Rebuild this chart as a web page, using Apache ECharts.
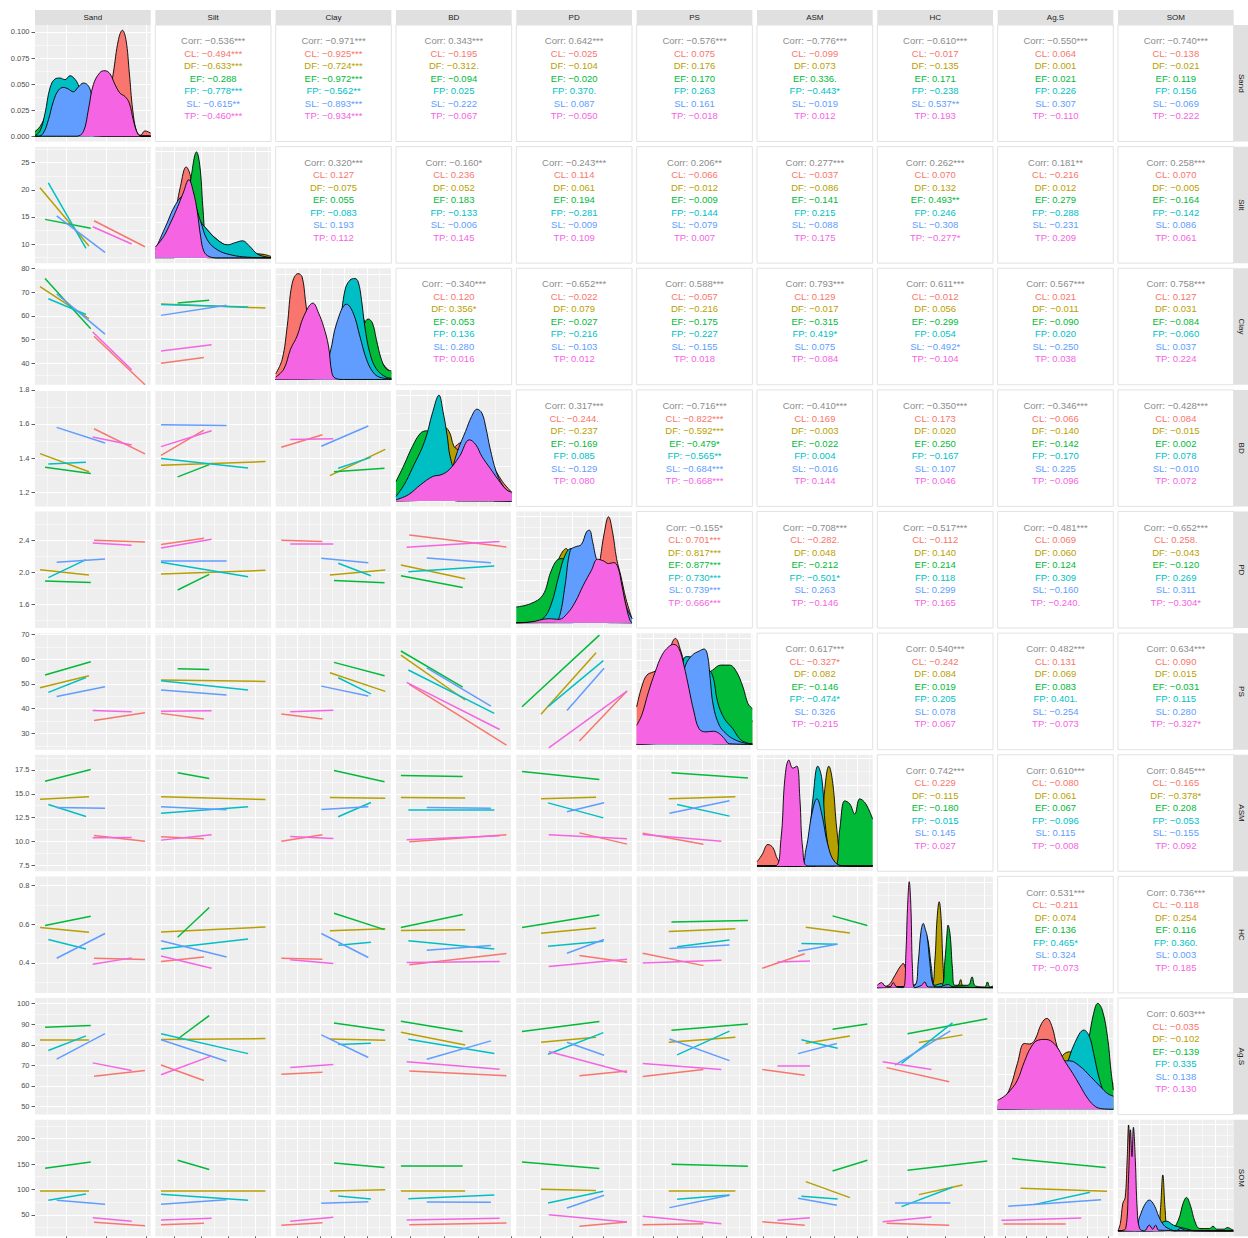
<!DOCTYPE html>
<html>
<head>
<meta charset="utf-8">
<title>Soil properties by land use</title>
<script src="https://cdn.jsdelivr.net/npm/echarts@6/dist/echarts.min.js"></script>
<style>
  html, body { margin: 0; padding: 0; background: #ffffff; }
  #chart { width: 1248px; height: 1238px; }
</style>
</head>
<body>
<div id="chart"></div>
<script>
// ---------------------------------------------------------------------------
// Variables, groups and axis scales
// ---------------------------------------------------------------------------
const variables = ['Sand', 'Silt', 'Clay', 'BD', 'PD', 'PS', 'ASM', 'HC', 'Ag.S', 'SOM'];
const groups = ['CL', 'DF', 'EF', 'FP', 'SL', 'TP'];
const groupColors = ['#F8766D', '#B79F00', '#00BA38', '#00BFC4', '#619CFF', '#F564E3'];

// panel scale limits of every variable
const axisLimits = [
  [4.03, 62.5], [6.48, 27.97], [30.9, 80.1], [1.116, 1.80], [1.30, 2.76],
  [23.45, 70.5], [6.89, 19.08], [0.245, 0.847], [46.1, 102.7], [8.4, 237]
];
// major breaks (tick labels) of every variable
const axisBreaks = [
  [20, 40, 60], [10, 15, 20, 25], [40, 50, 60, 70, 80], [1.2, 1.4, 1.6, 1.8], [1.6, 2.0, 2.4],
  [30, 40, 50, 60, 70], [7.5, 10, 12.5, 15, 17.5], [0.4, 0.6, 0.8], [50, 60, 70, 80, 90, 100], [50, 100, 150, 200]
];
const labelDigits = [0, 0, 0, 1, 1, 0, 1, 1, 0, 0];
// density breaks of the diagonal panels
const densityBreaks = [
  [0, 0.025, 0.05, 0.075, 0.1], [0, 0.1, 0.2, 0.3], [0, 0.02, 0.04, 0.06, 0.08], [0, 2, 4, 6],
  [0, 0.5, 1, 1.5, 2, 2.5], [0, 0.01, 0.02, 0.03, 0.04, 0.05], [0, 0.2, 0.4, 0.6, 0.8],
  [0, 5, 10, 15, 20], [0, 0.02, 0.04, 0.06], [0, 0.01, 0.02, 0.03, 0.04, 0.05]
];

// ---------------------------------------------------------------------------
// Per-group linear fits: x-extent of each group for each predictor ...
// order of groups: CL, DF, EF, FP, SL, TP
// ---------------------------------------------------------------------------
const groupExtents = [
  [[33.85, 59.6], [6.56, 31.3], [9.09, 32.2], [10.77, 29.8], [14.98, 39.4], [33.2, 52.9]],          // Sand
  [[7.54, 15.5], [7.54, 26.94], [10.63, 16.49], [7.54, 23.71], [7.54, 19.71], [7.54, 16.93]],       // Silt
  [[33.3, 50.8], [53.96, 77.5], [55.7, 77.2], [57.5, 71.4], [50.3, 70.3], [37.1, 55.4]],             // Clay
  [[1.195, 1.769], [1.145, 1.525], [1.145, 1.51], [1.189, 1.697], [1.298, 1.677], [1.179, 1.729]],  // BD
  [[2.096, 2.697], [1.611, 2.306], [1.372, 2.348], [1.70, 2.398], [1.939, 2.407], [1.709, 2.697]],  // PD
  [[25.9, 50.6], [36.5, 63.6], [37.6, 68.7], [39.9, 61.2], [36.8, 61.2], [25.9, 57.9]],             // PS
  [[7.45, 11.92], [12.03, 16.68], [14.85, 18.52], [11.57, 15.39], [11.22, 15.3], [9.04, 12.48]],    // ASM
  [[0.293, 0.619], [0.461, 0.688], [0.402, 0.817], [0.371, 0.636], [0.337, 0.625], [0.273, 0.527]], // HC
  [[48.9, 79.4], [57.3, 99.6], [53.2, 98.9], [63.9, 91.3], [51.3, 96.7], [48.0, 87.0]]              // Ag.S
];

// ... and the fitted response at both ends of that extent (one entry per predictor column)
const siltFits = [
  [[14.3, 9.5], [20.4, 9.63], [14.55, 12.9], [21.3, 9.2], [15.2, 8.47], [13.2, 10.0]]
];
const clayFits = [
  [[51.4, 30.9], [72.3, 58.8], [75.8, 54.6], [67.2, 60.6], [69.3, 52.3], [53.2, 37.2]],
  [[40.0, 42.4], [65.0, 63.3], [65.4, 66.6], [64.8, 63.7], [60.2, 64.5], [45.2, 47.8]]
];
const bdFits = [
  [[1.572, 1.424], [1.426, 1.319], [1.346, 1.309], [1.365, 1.375], [1.580, 1.488], [1.523, 1.476]],
  [[1.416, 1.564], [1.358, 1.379], [1.289, 1.361], [1.397, 1.342], [1.595, 1.591], [1.467, 1.560]],
  [[1.463, 1.537], [1.297, 1.451], [1.319, 1.340], [1.340, 1.404], [1.469, 1.588], [1.508, 1.513]]
];
const pdFits = [
  [[2.40, 2.379], [2.031, 1.964], [1.889, 1.872], [1.931, 2.157], [2.124, 2.165], [2.366, 2.337]],
  [[2.346, 2.425], [1.977, 2.023], [1.776, 1.973], [2.124, 1.943], [2.145, 2.145], [2.304, 2.413]],
  [[2.40, 2.383], [1.964, 2.027], [1.897, 1.868], [2.111, 1.956], [2.174, 2.119], [2.354, 2.354]],
  [[2.467, 2.316], [2.090, 1.918], [1.956, 1.809], [2.006, 2.078], [2.178, 2.119], [2.312, 2.383]]
];
const psFits = [
  [[35.25, 38.35], [48.45, 53.3], [53.6, 58.96], [46.6, 52.6], [44.95, 48.85], [39.3, 38.75]],
  [[38.1, 35.8], [51.55, 51.0], [56.1, 55.85], [51.3, 47.5], [47.5, 45.5], [39.0, 39.2]],
  [[37.8, 35.8], [54.5, 47.0], [58.7, 53.3], [52.5, 46.0], [49.1, 45.1], [38.75, 39.4]],
  [[49.8, 25.3], [61.65, 43.5], [63.3, 48.7], [55.6, 38.1], [56.5, 41.0], [50.6, 31.6]],
  [[26.9, 47.1], [37.7, 62.6], [40.8, 69.7], [40.8, 59.4], [39.3, 56.3], [24.2, 47.1]]
];
const asmFits = [
  [[10.64, 10.04], [14.43, 14.68], [16.32, 17.53], [13.88, 12.62], [13.56, 13.49], [10.39, 10.43]],
  [[10.5, 10.29], [14.68, 14.4], [17.19, 16.59], [12.97, 13.63], [13.63, 13.32], [10.15, 10.71]],
  [[10.04, 10.71], [14.61, 14.54], [17.43, 16.26], [12.59, 14.09], [13.35, 13.63], [10.53, 10.32]],
  [[9.97, 10.71], [14.61, 14.57], [16.91, 16.8], [13.32, 13.32], [13.56, 13.49], [10.18, 10.6]],
  [[10.91, 9.73], [14.47, 14.64], [17.33, 16.49], [14.05, 12.48], [13.11, 14.05], [10.71, 10.29]],
  [[10.88, 9.73], [14.47, 14.68], [17.19, 16.66], [13.88, 12.66], [12.97, 14.26], [10.74, 10.04]]
];
const hcFits = [
  [[0.424, 0.417], [0.583, 0.559], [0.593, 0.641], [0.521, 0.472], [0.424, 0.552], [0.393, 0.426]],
  [[0.407, 0.431], [0.560, 0.586], [0.533, 0.686], [0.472, 0.524], [0.514, 0.431], [0.436, 0.372]],
  [[0.424, 0.419], [0.566, 0.576], [0.657, 0.572], [0.491, 0.507], [0.552, 0.428], [0.416, 0.397]],
  [[0.391, 0.449], [0.567, 0.571], [0.583, 0.65], [0.514, 0.472], [0.466, 0.490], [0.402, 0.407]],
  [[0.438, 0.403], [0.553, 0.581], [0.583, 0.647], [0.486, 0.512], [0.450, 0.521], [0.381, 0.419]],
  [[0.45, 0.386], [0.562, 0.576], [0.612, 0.619], [0.483, 0.519], [0.474, 0.493], [0.40, 0.414]],
  [[0.372, 0.447], [0.584, 0.555], [0.643, 0.593], [0.50, 0.497], [0.46, 0.497], [0.405, 0.41]]
];
const agsFits = [
  [[64.7, 67.5], [82.5, 82.5], [88.5, 89.3], [77.2, 84.3], [73.0, 85.4], [71.2, 67.5]],
  [[70.2, 62.6], [82.5, 83.0], [82.8, 94.2], [85.3, 75.7], [82.4, 72.0], [65.4, 74.6]],
  [[65.7, 66.7], [82.8, 82.2], [90.6, 87.1], [80.1, 80.7], [84.8, 73.8], [68.9, 70.4]],
  [[67.2, 65.0], [86.1, 79.9], [91.4, 86.4], [82.7, 75.7], [73.0, 81.9], [71.8, 68.1]],
  [[65.0, 67.3], [81.2, 83.7], [86.4, 91.3], [75.4, 85.9], [81.2, 74.9], [76.7, 66.5]],
  [[64.6, 68.0], [81.2, 83.7], [87.1, 90.1], [75.1, 86.6], [82.8, 72.3], [70.9, 68.0]],
  [[68.0, 65.2], [80.7, 84.3], [87.5, 90.1], [82.4, 78.3], [75.7, 80.6], [69.6, 69.6]],
  [[68.9, 62.0], [81.1, 84.8], [85.3, 92.6], [71.0, 90.6], [70.1, 86.7], [71.7, 68.0]]
];
const somFits = [
  [[35.5, 29.0], [98.4, 98.4], [141.7, 154.1], [78.8, 91.2], [78.8, 70.9], [44.7, 37.5]],
  [[30.9, 33.6], [98.4, 98.4], [157.4, 139.1], [90.6, 78.8], [70.9, 80.1], [40.1, 43.4]],
  [[29.6, 34.9], [97.1, 99.7], [152.2, 143.0], [87.3, 81.4], [72.9, 76.1], [37.5, 45.3]],
  [[30.9, 34.2], [98.4, 97.8], [146.9, 146.9], [82.0, 89.3], [75.5, 74.8], [40.1, 43.4]],
  [[27.7, 36.2], [100.4, 97.8], [154.1, 141.0], [73.5, 96.5], [63.7, 88.6], [50.6, 36.2]],
  [[30.9, 32.9], [98.4, 98.4], [149.5, 145.6], [80.7, 89.3], [64.4, 88.6], [47.3, 32.9]],
  [[36.8, 29.6], [115.5, 84.0], [136.4, 157.4], [86.6, 81.4], [82.7, 68.9], [39.4, 44.7]],
  [[33.6, 29.6], [89.9, 108.9], [137.7, 156.1], [66.3, 104.3], [74.8, 74.8], [36.8, 46.0]],
  [[32.2, 32.2], [102.4, 96.5], [160.7, 143.0], [70.3, 94.5], [67.0, 80.1], [39.4, 44.0]]
];

// ---------------------------------------------------------------------------
// Correlations: [overall, CL, DF, EF, FP, SL, TP] for each pair above the diagonal
// ---------------------------------------------------------------------------
const sandCorr = [
  ['-0.536***', '-0.494***', '-0.633***', '-0.288', '-0.778***', '-0.615**', '-0.460***'],
  ['-0.971***', '-0.925***', '-0.724***', '-0.972***', '-0.562**', '-0.893***', '-0.934***'],
  ['0.343***', '-0.195', '-0.312.', '-0.094', '0.025', '-0.222', '-0.067'],
  ['0.642***', '-0.025', '-0.104', '-0.020', '0.370.', '0.087', '-0.050'],
  ['-0.576***', '0.075', '0.176', '0.170', '0.263', '0.161', '-0.018'],
  ['-0.776***', '-0.099', '0.073', '0.336.', '-0.443*', '-0.019', '0.012'],
  ['-0.610***', '-0.017', '-0.135', '0.171', '-0.238', '0.537**', '0.193'],
  ['-0.550***', '0.064', '0.001', '0.021', '0.226', '0.307', '-0.110'],
  ['-0.740***', '-0.138', '-0.021', '0.119', '0.156', '-0.069', '-0.222']
];
const siltCorr = [
  ['0.320***', '0.127', '-0.075', '0.055', '-0.083', '0.193', '0.112'],
  ['-0.160*', '0.236', '0.052', '0.183', '-0.133', '-0.006', '0.145'],
  ['-0.243***', '0.114', '0.061', '0.194', '-0.281', '-0.009', '0.109'],
  ['0.206**', '-0.066', '-0.012', '-0.009', '-0.144', '-0.079', '0.007'],
  ['0.277***', '-0.037', '-0.086', '-0.141', '0.215', '-0.088', '0.175'],
  ['0.262***', '0.070', '0.132', '0.493**', '0.246', '-0.308', '-0.277*'],
  ['0.181**', '-0.216', '0.012', '0.279', '-0.288', '-0.231', '0.209'],
  ['0.258***', '0.070', '-0.005', '-0.164', '-0.142', '0.086', '0.061']
];
const clayCorr = [
  ['-0.340***', '0.120', '0.356*', '0.053', '0.136', '0.280', '0.016'],
  ['-0.652***', '-0.022', '0.079', '-0.027', '-0.216', '-0.103', '0.012'],
  ['0.588***', '-0.057', '-0.216', '-0.175', '-0.227', '-0.155', '0.018'],
  ['0.793***', '0.129', '-0.017', '-0.315', '0.419*', '0.075', '-0.084'],
  ['0.611***', '-0.012', '0.056', '-0.299', '0.054', '-0.492*', '-0.104'],
  ['0.567***', '0.021', '-0.011', '-0.090', '0.020', '-0.250', '0.038'],
  ['0.758***', '0.127', '0.031', '-0.084', '-0.060', '0.037', '0.224']
];
const bdCorr = [
  ['0.317***', '-0.244.', '-0.237', '-0.169', '0.085', '-0.129', '0.080'],
  ['-0.716***', '-0.822***', '-0.592***', '-0.479*', '-0.565**', '-0.684***', '-0.668***'],
  ['-0.410***', '0.169', '-0.003', '-0.022', '0.004', '-0.016', '0.144'],
  ['-0.350***', '0.173', '0.020', '0.250', '-0.167', '0.107', '0.046'],
  ['-0.346***', '-0.066', '-0.140', '-0.142', '-0.170', '0.225', '-0.096'],
  ['-0.428***', '0.084', '-0.015', '0.002', '0.078', '-0.010', '0.072']
];
const pdCorr = [
  ['-0.155*', '0.701***', '0.817***', '0.877***', '0.730***', '0.739***', '0.666***'],
  ['-0.708***', '-0.282.', '0.048', '-0.212', '-0.501*', '0.263', '-0.146'],
  ['-0.517***', '-0.112', '0.140', '0.214', '0.118', '0.299', '0.165'],
  ['-0.481***', '0.069', '0.060', '0.124', '0.309', '-0.160', '-0.240.'],
  ['-0.652***', '0.258.', '-0.043', '-0.120', '0.269', '0.311', '-0.304*']
];
const psCorr = [
  ['0.617***', '-0.327*', '0.082', '-0.146', '-0.474*', '0.326', '-0.215'],
  ['0.540***', '-0.242', '0.084', '0.019', '0.205', '0.078', '0.067'],
  ['0.482***', '0.131', '0.069', '0.083', '0.401.', '-0.254', '-0.073'],
  ['0.634***', '0.090', '0.015', '-0.031', '0.115', '0.280', '-0.327*']
];
const asmCorr = [
  ['0.742***', '0.229', '-0.115', '-0.180', '-0.015', '0.145', '0.027'],
  ['0.610***', '-0.080', '0.061', '0.067', '-0.096', '0.115', '-0.008'],
  ['0.845***', '-0.165', '-0.378*', '0.208', '-0.053', '-0.155', '0.092']
];
const hcCorr = [
  ['0.531***', '-0.211', '0.074', '0.136', '0.465*', '0.324', '-0.073'],
  ['0.736***', '-0.118', '0.254', '0.116', '0.360.', '0.003', '0.185']
];
const agsCorr = [
  ['0.603***', '-0.035', '-0.102', '-0.139', '0.335', '0.138', '0.130']
];

// ---------------------------------------------------------------------------
// Kernel density curves on the diagonal: [value, density] for CL, DF, EF, FP, SL, TP
// ---------------------------------------------------------------------------
const sandDensity = [
  [[4.03, 0], [28.5, 0], [35.2, 0.0029], [40.3, 0.0253], [43.6, 0.0606], [46.2, 0.0926], [48.2, 0.1016], [50.0, 0.0926], [51.7, 0.0606], [53.4, 0.0253], [55.4, 0.0045], [57.4, 0.001], [59.6, 0.0051], [62.5, 0.0029]],
  [[4.03, 0.0013], [7.4, 0.0093], [10.8, 0.0285], [14.1, 0.0446], [17.5, 0.051], [20.9, 0.0516], [24.2, 0.0494], [27.6, 0.0349], [30.5, 0.0125], [33.5, 0.0003], [36, 0], [62.5, 0]],
  [[4.03, 0.0045], [6.6, 0.0093], [9.9, 0.0221], [13.3, 0.0381], [16.7, 0.0462], [20.0, 0.0471], [23.4, 0.0446], [26.8, 0.0349], [30.2, 0.0125], [33.2, 0.0003], [36, 0], [62.5, 0]],
  [[4.03, 0.0005], [6.6, 0.005], [9.1, 0.022], [11.6, 0.0462], [14.1, 0.0548], [16.7, 0.0558], [19.2, 0.0542], [21.7, 0.058], [23.7, 0.0558], [25.9, 0.0494], [28.5, 0.0349], [31.0, 0.0125], [33.5, 0.0013], [36, 0], [62.5, 0]],
  [[4.03, 0], [5.7, 0], [8.2, 0.0029], [10.8, 0.0157], [13.3, 0.0333], [15.8, 0.0439], [18.4, 0.0468], [20.9, 0.0452], [23.4, 0.0426], [25.9, 0.0471], [28.5, 0.051], [30.5, 0.0494], [32.2, 0.0429], [33.9, 0.0253], [35.5, 0.0045], [37.7, 0], [62.5, 0]],
  [[4.03, 0], [25.1, 0], [28.5, 0.0045], [31.0, 0.0253], [33.5, 0.0494], [36.9, 0.0612], [39.4, 0.0628], [41.9, 0.0599], [44.5, 0.0494], [47.0, 0.0413], [49.5, 0.0381], [51.7, 0.0317], [53.7, 0.0157], [55.8, 0.0029], [57.9, 0], [62.5, 0]]
];
const siltDensity = [
  [[6.48, 0], [7.41, 0.0132], [8.66, 0.0509], [9.9, 0.1075], [11.15, 0.2018], [12.21, 0.2565], [13.02, 0.2301], [13.77, 0.1452], [14.58, 0.0509], [15.51, 0.0038], [16.76, 0], [27.97, 0]],
  [[6.48, 0.0085], [8.66, 0.0509], [11.15, 0.0981], [13.02, 0.1216], [14.89, 0.0981], [18.0, 0.0509], [21.12, 0.0226], [24.23, 0.0132], [26.72, 0.0094], [27.97, 0.0038]],
  [[6.48, 0], [9.9, 0], [11.46, 0.0509], [12.4, 0.1452], [13.15, 0.2301], [14.14, 0.2989], [14.76, 0.2584], [15.3, 0.1452], [15.8, 0.0509], [16.45, 0.0085], [18.0, 0], [27.97, 0]],
  [[6.48, 0.0132], [8.66, 0.0604], [10.53, 0.1169], [12.4, 0.1452], [14.27, 0.1122], [16.13, 0.0792], [18.0, 0.0509], [19.87, 0.0368], [21.43, 0.0434], [22.68, 0.0481], [23.92, 0.0339], [25.48, 0.0104], [27.35, 0.0019], [27.97, 0.0009]],
  [[6.48, 0.0226], [8.66, 0.0981], [10.22, 0.1499], [11.77, 0.1735], [13.33, 0.1641], [14.89, 0.1028], [16.13, 0.0509], [18.0, 0.0226], [20.5, 0.0085], [23.61, 0.0019], [27.97, 0]],
  [[6.48, 0.0302], [8.04, 0.0604], [9.28, 0.0981], [10.53, 0.1405], [11.65, 0.1829], [12.71, 0.2207], [13.52, 0.1877], [14.27, 0.1311], [14.89, 0.0604], [15.51, 0.0179], [16.45, 0.0038], [18.0, 0], [27.97, 0]]
];
const clayDensity = [
  [[30.9, 0.0042], [33.71, 0.0154], [35.81, 0.0403], [37.92, 0.0727], [40.45, 0.0802], [42.13, 0.0777], [43.53, 0.0603], [44.94, 0.0403], [47.04, 0.0204], [49.85, 0.0055], [54.06, 0.0005], [60, 0], [80.1, 0]],
  [[30.9, 0], [50, 0.001], [55.46, 0.0055], [61.08, 0.0403], [65.29, 0.0553], [69.5, 0.0403], [75.12, 0.0154], [80.1, 0.005]],
  [[30.9, 0], [55.46, 0.0005], [62.48, 0.008], [66.69, 0.0304], [68.8, 0.0428], [70.2, 0.0458], [72.03, 0.0428], [73.71, 0.0304], [75.82, 0.0154], [77.92, 0.008], [80.1, 0.0065]],
  [[30.9, 0], [49.85, 0.0005], [55.46, 0.0105], [58.27, 0.0403], [60.38, 0.0677], [62.48, 0.0752], [64.59, 0.0764], [65.99, 0.074], [67.4, 0.0603], [68.8, 0.0403], [70.91, 0.0204], [73.71, 0.008], [77.92, 0.0017], [80.1, 0.001]],
  [[30.9, 0], [47.04, 0.0005], [51.25, 0.0055], [54.06, 0.0204], [56.87, 0.0428], [61.08, 0.057], [63.89, 0.0503], [66.69, 0.0329], [69.5, 0.0154], [72.31, 0.0055], [75.12, 0.0017], [80.1, 0.0005]],
  [[30.9, 0.0017], [34.41, 0.008], [37.22, 0.0229], [40.02, 0.0329], [42.83, 0.0478], [46.76, 0.0578], [49.15, 0.0503], [51.25, 0.0403], [53.36, 0.0254], [54.76, 0.0055], [56.17, 0.001], [59.68, 0], [80.1, 0]]
];
const bdDensity = [
  [[1.116, 0.075], [1.237, 0.547], [1.334, 1.302], [1.406, 2.246], [1.467, 3.095], [1.527, 3.378], [1.6, 3.189], [1.672, 2.246], [1.745, 1.113], [1.80, 0.5]],
  [[1.116, 0.359], [1.189, 1.302], [1.261, 2.812], [1.334, 3.755], [1.394, 4.227], [1.43, 3.944], [1.459, 3.095], [1.491, 2.812], [1.527, 1.868], [1.575, 0.736], [1.648, 0.17], [1.721, 0], [1.80, 0]],
  [[1.116, 1.113], [1.164, 2.057], [1.213, 3.095], [1.261, 3.849], [1.297, 3.982], [1.329, 3.566], [1.358, 2.057], [1.394, 0.925], [1.43, 0.264], [1.479, 0], [1.80, 0]],
  [[1.116, 0.264], [1.164, 0.925], [1.213, 1.868], [1.285, 3.378], [1.334, 5.076], [1.37, 6.0], [1.394, 5.076], [1.418, 3.755], [1.438, 2.434], [1.479, 1.396], [1.551, 0.736], [1.624, 0.264], [1.696, 0.075], [1.80, 0]],
  [[1.116, 0], [1.31, 0.075], [1.382, 0.547], [1.43, 1.302], [1.479, 2.812], [1.527, 3.944], [1.563, 4.793], [1.595, 5.208], [1.624, 4.982], [1.648, 4.133], [1.672, 3.0], [1.708, 1.679], [1.745, 0.925], [1.781, 0.547], [1.80, 0.45]],
  [[1.116, 0.075], [1.189, 0.359], [1.261, 0.925], [1.334, 1.396], [1.382, 1.491], [1.43, 1.774], [1.491, 2.529], [1.551, 3.472], [1.588, 3.189], [1.624, 2.529], [1.672, 1.868], [1.721, 1.208], [1.769, 0.642], [1.80, 0.5]]
];
const pdDensity = [
  [[1.30, 0], [1.992, 0], [2.197, 0.173], [2.299, 0.723], [2.36, 1.509], [2.412, 2.138], [2.463, 2.492], [2.514, 2.138], [2.565, 1.509], [2.617, 1.116], [2.683, 0.566], [2.76, 0.094]],
  [[1.30, 0], [1.428, 0.055], [1.582, 0.252], [1.735, 0.881], [1.838, 1.509], [1.93, 1.745], [1.981, 1.509], [2.043, 0.881], [2.145, 0.409], [2.299, 0.094], [2.504, 0], [2.76, 0]],
  [[1.30, 0.37], [1.479, 0.448], [1.633, 0.645], [1.735, 1.195], [1.812, 1.47], [1.879, 1.509], [1.94, 1.195], [1.992, 0.723], [2.094, 0.33], [2.248, 0.094], [2.401, 0.016], [2.76, 0]],
  [[1.30, 0], [1.479, 0.016], [1.633, 0.094], [1.735, 0.409], [1.838, 1.116], [1.915, 1.588], [1.992, 1.745], [2.094, 1.667], [2.197, 1.195], [2.299, 0.723], [2.401, 0.33], [2.504, 0.094], [2.76, 0]],
  [[1.30, 0], [1.787, 0.016], [1.848, 0.173], [1.915, 0.881], [1.981, 1.706], [2.043, 1.785], [2.12, 1.84], [2.186, 2.138], [2.222, 2.178], [2.263, 1.903], [2.309, 1.509], [2.376, 1.195], [2.453, 1.195], [2.53, 1.313], [2.606, 1.038], [2.683, 0.409], [2.76, 0.094]],
  [[1.30, 0], [1.479, 0.016], [1.71, 0.094], [1.838, 0.079], [1.94, 0.212], [2.043, 0.487], [2.145, 0.881], [2.248, 1.234], [2.325, 1.494], [2.401, 1.454], [2.463, 1.392], [2.53, 1.415], [2.581, 1.313], [2.632, 0.881], [2.683, 0.409], [2.734, 0.055], [2.76, 0]]
];
const psDensity = [
  [[23.45, 0.0177], [25.51, 0.0272], [27.57, 0.0327], [30.31, 0.0343], [33.74, 0.0362], [36.48, 0.0438], [39.22, 0.0501], [41.28, 0.0446], [44.03, 0.0327], [46.77, 0.0153], [49.51, 0.0043], [52.94, 0.0008], [57.06, 0], [70.5, 0]],
  [[23.45, 0], [39.22, 0.0027], [46.08, 0.0169], [52.94, 0.0296], [59.8, 0.0312], [65.29, 0.0248], [70.5, 0.0106]],
  [[23.45, 0], [36.48, 0.0011], [41.97, 0.0122], [47.45, 0.0248], [51.57, 0.0327], [54.31, 0.0351], [57.74, 0.0375], [61.17, 0.0375], [63.91, 0.0346], [66.66, 0.0272], [68.72, 0.0193], [70.5, 0.0169]],
  [[23.45, 0], [33.74, 0.0011], [37.85, 0.0122], [41.28, 0.0312], [43.61, 0.0415], [47.45, 0.0407], [51.57, 0.0367], [54.31, 0.0327], [56.37, 0.0201], [59.12, 0.0122], [62.54, 0.0074], [65.29, 0.0027], [68.03, 0.0008], [70.5, 0.0002]],
  [[23.45, 0], [32.37, 0.0011], [36.48, 0.009], [40.6, 0.0248], [43.34, 0.0375], [46.08, 0.0422], [48.83, 0.0441], [50.88, 0.0451], [52.26, 0.0422], [53.35, 0.0312], [54.59, 0.0185], [57.06, 0.009], [59.8, 0.0051], [62.54, 0.0027], [66.66, 0.0008], [70.5, 0.0002]],
  [[23.45, 0.009], [25.51, 0.0138], [28.25, 0.0248], [30.99, 0.0343], [33.74, 0.0422], [36.48, 0.0462], [38.54, 0.0473], [40.6, 0.0454], [42.65, 0.0375], [44.71, 0.0264], [46.77, 0.0153], [48.83, 0.0074], [51.57, 0.0059], [54.59, 0.0062], [57.06, 0.0051], [59.12, 0.0027], [61.17, 0.0003], [70.5, 0]]
];
const asmDensity = [
  [[6.89, 0.03], [7.42, 0.083], [8.05, 0.159], [8.57, 0.136], [9.1, 0.045], [9.83, 0], [19.08, 0]],
  [[6.89, 0], [12.99, 0], [13.62, 0.196], [14.04, 0.574], [14.46, 0.74], [14.88, 0.612], [15.3, 0.272], [15.82, 0.03], [16.45, 0], [19.08, 0]],
  [[6.89, 0], [15.09, 0], [15.61, 0.272], [16.14, 0.483], [16.66, 0.461], [17.19, 0.385], [17.72, 0.498], [18.35, 0.461], [19.08, 0.347]],
  [[6.89, 0], [11.41, 0], [12.25, 0.159], [12.78, 0.498], [13.3, 0.74], [13.72, 0.649], [14.14, 0.272], [14.77, 0.045], [15.61, 0], [19.08, 0]],
  [[6.89, 0], [11.41, 0], [12.04, 0.121], [12.67, 0.385], [13.2, 0.498], [13.72, 0.385], [14.35, 0.159], [15.09, 0.03], [16.14, 0], [19.08, 0]],
  [[6.89, 0], [8.78, 0], [9.41, 0.196], [9.83, 0.649], [10.25, 0.785], [10.67, 0.725], [11.09, 0.74], [11.41, 0.498], [11.72, 0.121], [12.25, 0], [19.08, 0]]
];
const hcDensity = [
  [[0.245, 0], [0.302, 0.443], [0.337, 2.342], [0.363, 3.925], [0.38, 4.558], [0.392, 3.608], [0.406, 1.076], [0.432, 0], [0.847, 0]],
  [[0.245, 0], [0.527, 0.443], [0.544, 4.874], [0.556, 13.1], [0.567, 16.27], [0.577, 13.1], [0.588, 3.61], [0.6, 0.127], [0.665, 0.443], [0.679, 1.519], [0.693, 0.317], [0.847, 0]],
  [[0.245, 0], [0.579, 0.443], [0.596, 4.874], [0.607, 9.94], [0.613, 11.84], [0.624, 9.94], [0.636, 3.61], [0.648, 0.443], [0.717, 0.443], [0.738, 2.026], [0.755, 0.317], [0.804, 0.127], [0.818, 1.076], [0.831, 0.127], [0.847, 0.317]],
  [[0.245, 0], [0.337, 0.127], [0.449, 0.76], [0.475, 6.14], [0.496, 10.25], [0.51, 8.67], [0.527, 3.61], [0.544, 0.443], [0.579, 0.76], [0.596, 0.127], [0.847, 0]],
  [[0.245, 0], [0.337, 0.127], [0.44, 0.443], [0.458, 4.874], [0.472, 10.57], [0.484, 12.15], [0.496, 10.89], [0.505, 9.62], [0.518, 4.874], [0.536, 0.443], [0.562, 0.127], [0.613, 0.57], [0.639, 0.127], [0.847, 0]],
  [[0.245, 0.443], [0.267, 0.95], [0.285, 0.317], [0.311, 0.127], [0.328, 0.95], [0.345, 0.127], [0.38, 0], [0.394, 6.77], [0.402, 15.0], [0.411, 20.07], [0.42, 15.0], [0.428, 3.61], [0.44, 0], [0.475, 0.443], [0.492, 1.076], [0.51, 0.127], [0.847, 0]]
];
const agsDensity = [
  [[46.1, 0.0023], [48.98, 0.0055], [52.37, 0.0127], [55.76, 0.0259], [59.15, 0.0372], [61.69, 0.0369], [64.24, 0.0391], [67.63, 0.0486], [70.17, 0.0514], [72.71, 0.0467], [75.25, 0.0353], [78.64, 0.0268], [82.88, 0.0164], [87.97, 0.0051], [93.05, 0.0009], [102.7, 0]],
  [[46.1, 0], [52.37, 0.0013], [62.54, 0.0108], [72.71, 0.0221], [81.19, 0.0325], [86.27, 0.0297], [93.05, 0.024], [98.14, 0.0183], [102.7, 0.0146]],
  [[46.1, 0], [67.63, 0.0004], [79.49, 0.007], [86.27, 0.0202], [90.51, 0.0391], [93.05, 0.0542], [95.09, 0.0599], [97.29, 0.0561], [99.83, 0.041], [101.53, 0.0221], [102.7, 0.0108]],
  [[46.1, 0], [59.15, 0.0004], [72.71, 0.007], [79.49, 0.024], [83.73, 0.0372], [88.31, 0.0448], [91.02, 0.041], [93.05, 0.0316], [95.59, 0.0183], [98.14, 0.0089], [100.68, 0.0023], [102.7, 0.0004]],
  [[46.1, 0.0013], [55.76, 0.007], [67.63, 0.0183], [76.1, 0.0268], [81.19, 0.0274], [86.27, 0.0244], [91.36, 0.0187], [96.44, 0.0127], [99.83, 0.0089], [102.7, 0.0074]],
  [[46.1, 0.0051], [48.98, 0.007], [52.37, 0.0108], [55.76, 0.0164], [59.15, 0.0268], [62.54, 0.0353], [65.93, 0.0391], [69.32, 0.0395], [72.71, 0.0382], [76.1, 0.0335], [78.64, 0.0278], [82.88, 0.0202], [86.27, 0.0136], [89.66, 0.007], [93.05, 0.0023], [96.44, 0.0004], [102.7, 0]]
];
const somDensity = [
  [[8.4, 0], [13.16, 0.0035], [17.93, 0.0129], [22.69, 0.0157], [26.5, 0.0333], [29.36, 0.0498], [32.21, 0.0333], [36.98, 0.005], [44.6, 0], [237, 0]],
  [[8.4, 0], [65.55, 0], [87.46, 0.0011], [92.22, 0.0097], [96.98, 0.0263], [101.7, 0.0097], [106.5, 0.0011], [122.7, 0], [237, 0]],
  [[8.4, 0], [84.6, 0], [113.2, 0.0006], [127.5, 0.005], [137, 0.0129], [143.7, 0.0157], [151.3, 0.0121], [160.8, 0.0042], [170.3, 0.0011], [189.4, 0.0011], [196, 0.0022], [203.7, 0.0008], [217.9, 0.0008], [224.6, 0.0016], [232.2, 0.0008], [237, 0.0003]],
  [[8.4, 0], [36.98, 0], [56.03, 0.0019], [75.08, 0.005], [89.36, 0.0035], [103.65, 0.0046], [117.9, 0.0027], [127.5, 0.0019], [141.8, 0.0011], [160.8, 0], [237, 0]],
  [[8.4, 0], [41.74, 0.0011], [51.26, 0.0066], [60.79, 0.0121], [70.31, 0.0145], [79.84, 0.0121], [89.36, 0.0066], [98.89, 0.0027], [108.4, 0.0011], [122.7, 0], [132.2, 0.0011], [141.8, 0.0003], [237, 0]],
  [[8.4, 0], [23.64, 0.0011], [29.36, 0.0255], [33.17, 0.0475], [36.02, 0.0349], [38.88, 0.0487], [42.69, 0.0333], [46.5, 0.0097], [51.26, 0.0011], [60.79, 0], [70.31, 0.0027], [76.98, 0.0008], [82.69, 0.0027], [89.36, 0.0003], [237, 0]]
];

const fitsByRow = [null, siltFits, clayFits, bdFits, pdFits, psFits, asmFits, hcFits, agsFits, somFits];
const corrByRow = [sandCorr, siltCorr, clayCorr, bdCorr, pdCorr, psCorr, asmCorr, hcCorr, agsCorr];
const densities = [sandDensity, siltDensity, clayDensity, bdDensity, pdDensity, psDensity, asmDensity, hcDensity, agsDensity, somDensity];

// ---------------------------------------------------------------------------
// Layout and theme
// ---------------------------------------------------------------------------
const FONT = '"Liberation Sans", Arial, Helvetica, sans-serif';
const PANEL_LEFT = 35, COL_STEP = 120.33, PANEL_W = 115.7;
const PANEL_TOP = 25, ROW_STEP = 121.63, PANEL_H = 116.5;
const STRIP_SIZE = 15;
const PANEL_BG = '#EEEEEE', STRIP_BG = '#E0E0E0';

function inRange(vals, lim) {
  return vals.filter(v => v >= lim[0] - 1e-9 && v <= lim[1] + 1e-9);
}
function minorBreaks(br, lim) {
  const step = br[1] - br[0];
  const all = [br[0] - step].concat(br, [br[br.length - 1] + step]);
  const out = [];
  for (let k = 0; k < all.length - 1; k++) {
    const m = (all[k] + all[k + 1]) / 2;
    if (m > lim[0] && m < lim[1]) out.push(m);
  }
  return out;
}
function densityLimits(k) {
  let top = 0;
  densities[k].forEach(curve => curve.forEach(p => { if (p[1] > top) top = p[1]; }));
  return [-0.05 * top, 1.05 * top];
}

const grids = [], xAxes = [], yAxes = [], series = [], graphics = [];
const n = variables.length;

function addGridlines(idx, xl, yl, xb, yb) {
  const major = [], minor = [];
  inRange(xb, xl).forEach(v => major.push({ coords: [[v, yl[0]], [v, yl[1]]] }));
  inRange(yb, yl).forEach(v => major.push({ coords: [[xl[0], v], [xl[1], v]] }));
  minorBreaks(xb, xl).forEach(v => minor.push({ coords: [[v, yl[0]], [v, yl[1]]] }));
  minorBreaks(yb, yl).forEach(v => minor.push({ coords: [[xl[0], v], [xl[1], v]] }));
  const base = { type: 'lines', coordinateSystem: 'cartesian2d', xAxisIndex: idx, yAxisIndex: idx,
                 silent: true, animation: false, z: 1 };
  series.push(Object.assign({}, base, { lineStyle: { color: '#FFFFFF', width: 0.55, opacity: 1 }, data: minor }));
  series.push(Object.assign({}, base, { lineStyle: { color: '#FFFFFF', width: 1.1, opacity: 1 }, data: major }));
}

for (let i = 0; i < n; i++) {
  for (let j = 0; j < n; j++) {
    const idx = grids.length;
    const left = PANEL_LEFT + COL_STEP * j;
    const top = PANEL_TOP + ROW_STEP * i;
    const upper = j > i, diag = i === j;

    grids.push({
      left: left, top: top, width: PANEL_W, height: PANEL_H, show: true,
      backgroundColor: upper ? '#FFFFFF' : PANEL_BG,
      borderColor: upper ? '#E2E2E2' : 'rgba(0,0,0,0)', borderWidth: upper ? 1 : 0
    });

    const xl = axisLimits[j];
    const yl = diag ? densityLimits(j) : axisLimits[i];
    const xb = axisBreaks[j];
    const yb = diag ? densityBreaks[j] : axisBreaks[i];
    const yDigits = diag ? 3 : labelDigits[i];

    xAxes.push({
      gridIndex: idx, type: 'value', min: xl[0], max: xl[1], show: !upper,
      axisLine: { show: false }, splitLine: { show: false }, minorSplitLine: { show: false },
      axisTick: { show: i === n - 1, length: 3.5, customValues: inRange(xb, xl), lineStyle: { color: '#333333', width: 0.8 } },
      axisLabel: { show: false }
    });
    yAxes.push({
      gridIndex: idx, type: 'value', min: yl[0], max: yl[1], show: !upper,
      axisLine: { show: false }, splitLine: { show: false }, minorSplitLine: { show: false },
      axisTick: { show: j === 0, length: 3.5, customValues: inRange(yb, yl), lineStyle: { color: '#333333', width: 0.8 } },
      axisLabel: {
        show: j === 0, customValues: inRange(yb, yl), margin: 5.5, fontSize: 7.5, color: '#4D4D4D', fontFamily: FONT,
        formatter: v => Number(v).toFixed(yDigits)
      }
    });

    if (upper) {
      const vals = corrByRow[i][j - i - 1];
      vals.forEach((v, k) => {
        graphics.push({
          type: 'text', z: 100, silent: true,
          x: left + PANEL_W / 2, y: top + 15.7 + 12.5 * k,
          style: {
            text: (k === 0 ? 'Corr: ' : groups[k - 1] + ': ') + v.replace('-', '\u2212'),
            fill: k === 0 ? '#8C8C8C' : groupColors[k - 1],
            font: '9.5px ' + FONT,
            textAlign: 'center', textVerticalAlign: 'middle', align: 'center', verticalAlign: 'middle'
          }
        });
      });
      continue;
    }

    addGridlines(idx, xl, yl, xb, yb);

    if (diag) {
      // each group gets its own layer so later groups cover earlier outlines
      densities[i].forEach((curve, k) => {
        series.push({
          type: 'line', name: groups[k], xAxisIndex: idx, yAxisIndex: idx, data: curve,
          smooth: 0.4, symbol: 'none', showSymbol: false, silent: true, animation: false, z: 2 + k,
          lineStyle: { color: '#000000', width: 0.9 },
          areaStyle: { color: groupColors[k], opacity: 1 }
        });
      });
    } else {
      const ext = groupExtents[j];
      const fit = fitsByRow[i][j];
      series.push({
        type: 'lines', coordinateSystem: 'cartesian2d', xAxisIndex: idx, yAxisIndex: idx,
        silent: true, animation: false, z: 10,
        lineStyle: { width: 1.5, opacity: 1 },
        data: groups.map((g, k) => ({
          name: g,
          coords: [[ext[k][0], fit[k][0]], [ext[k][1], fit[k][1]]],
          lineStyle: { color: groupColors[k], width: 1.5, opacity: 1 }
        }))
      });
    }
  }
}

// facet strips: variable names on top and on the right
for (let j = 0; j < n; j++) {
  const left = PANEL_LEFT + COL_STEP * j;
  graphics.push({ type: 'rect', z: 90, silent: true,
    shape: { x: left, y: PANEL_TOP - STRIP_SIZE, width: PANEL_W, height: STRIP_SIZE }, style: { fill: STRIP_BG } });
  graphics.push({ type: 'text', z: 100, silent: true,
    x: left + PANEL_W / 2, y: PANEL_TOP - STRIP_SIZE / 2,
    style: { text: variables[j], fill: '#1A1A1A', font: '8px ' + FONT,
             textAlign: 'center', textVerticalAlign: 'middle', align: 'center', verticalAlign: 'middle' } });
}
const stripX = PANEL_LEFT + COL_STEP * (n - 1) + PANEL_W;
for (let i = 0; i < n; i++) {
  const top = PANEL_TOP + ROW_STEP * i;
  graphics.push({ type: 'rect', z: 90, silent: true,
    shape: { x: stripX, y: top, width: STRIP_SIZE, height: PANEL_H }, style: { fill: STRIP_BG } });
  graphics.push({ type: 'text', z: 100, silent: true,
    x: stripX + STRIP_SIZE / 2, y: top + PANEL_H / 2, rotation: -Math.PI / 2,
    style: { text: variables[i], fill: '#1A1A1A', font: '8px ' + FONT,
             textAlign: 'center', textVerticalAlign: 'middle', align: 'center', verticalAlign: 'middle' } });
}

const chart = echarts.init(document.getElementById('chart'), null, { renderer: 'svg', width: 1248, height: 1238 });
chart.setOption({
  animation: false,
  backgroundColor: '#FFFFFF',
  grid: grids,
  xAxis: xAxes,
  yAxis: yAxes,
  series: series,
  graphic: { elements: graphics }
});
</script>
</body>
</html>
